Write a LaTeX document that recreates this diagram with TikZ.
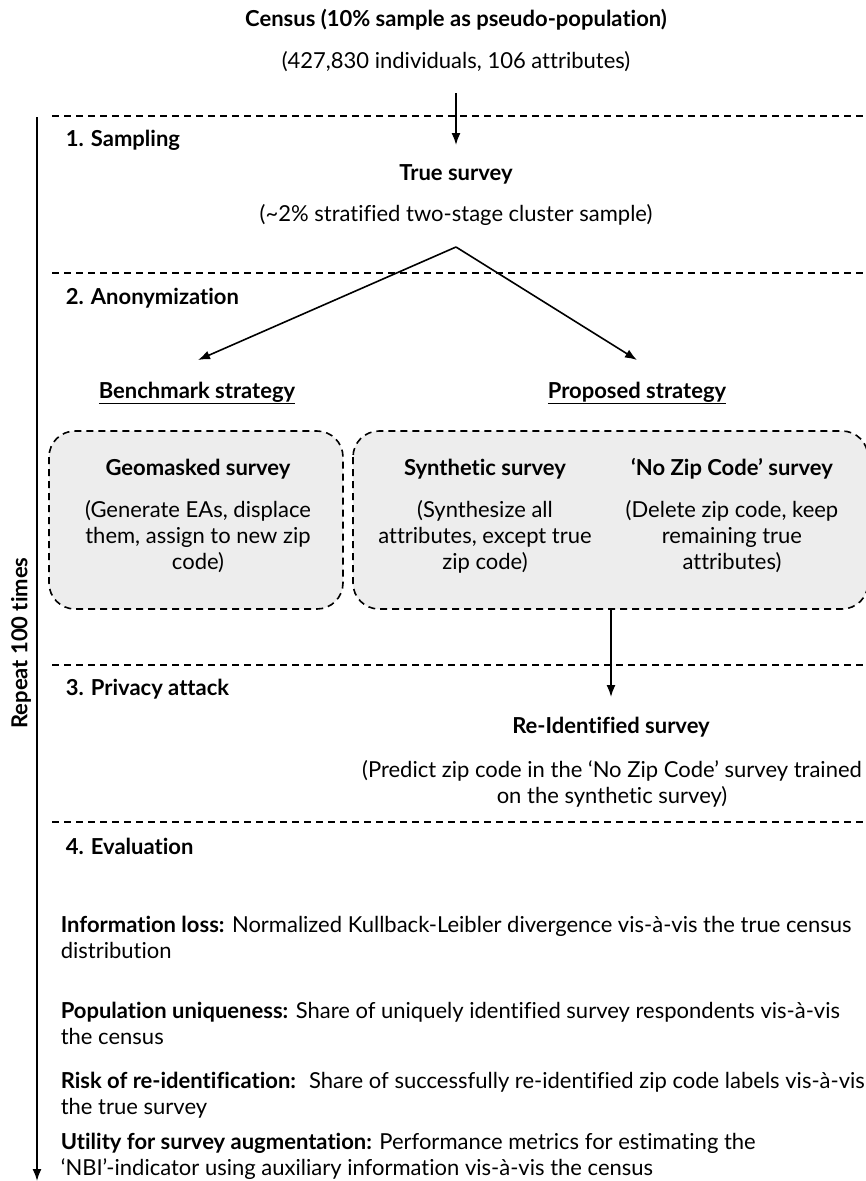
\documentclass[tikz,border=0pt]{standalone}
\usepackage{fontspec}
\setmainfont{Lato}[Ligatures=CommonOff]
\usepackage{tikz}
\usetikzlibrary{arrows.meta}

\newcommand\bodyfont{\fontsize{22}{26}\selectfont}
\tikzset{
  every node/.style={font=\bodyfont, inner sep=0pt},
  heading/.style={font=\bodyfont\bfseries},
  phase/.style={font=\bodyfont\bfseries, anchor=west},
  desc/.style={align=center},
  item/.style={anchor=north west, align=left},
  sep/.style={dash pattern=on 7pt off 5pt},
  strategy/.style={draw, dash pattern=on 7pt off 5pt, rounded corners=26pt, fill=gray!14},
  flow/.style={-{Latex[length=12pt,width=9pt]}},
}

\begin{document}
\begin{tikzpicture}[x=1pt, y=-1pt, line width=1.6pt]
        \useasboundingbox (0,0) rectangle (865,1181);

        \node[heading] (census) at (456,20) {Census (10\% sample as pseudo-population)};
        \node (censusinfo) at (456,62) {(427,830 individuals, 106 attributes)};

        % Phases
        \draw[sep] (52,116) -- (865,116);
        \draw[sep] (52,273) -- (865,273);
        \draw[sep] (52,665) -- (865,665);
        \draw[sep] (52,822) -- (865,822);
        \node[phase] (sampling) at (65,140) {1. Sampling};
        \node[phase] (anonym) at (65,298) {2. Anonymization};
        \node[phase] (attack) at (65,689) {3. Privacy attack};
        \node[phase] (evaluation) at (65,846) {4. Evaluation};

        % Repeat
        \coordinate (rtop) at (37,117);
        \coordinate (rbot) at (37,1181);
        \draw[flow] (rtop) -- (rbot);
        \node[heading, rotate=90] (repeat) at (21,643) {Repeat 100 times};

        % Sampling
        \coordinate (censusout) at (456,93);
        \node[heading] (true) at (456,174) {True survey};
        \node (trueinfo) at (456,215) {(\textasciitilde2\% stratified two-stage cluster sample)};
        \draw[flow] (censusout) -- (456,145);

        % Anonymization
        \coordinate (apex) at (456,247);
        \coordinate (benchin) at (198,360);
        \coordinate (propin) at (637,360);
        \draw[flow] (apex) -- (benchin);
        \draw[flow] (apex) -- (propin);
        \node[heading] (bench) at (197,393) {\underline{Benchmark strategy}};
        \node[heading] (prop) at (637,393) {\underline{Proposed strategy}};

        \draw[strategy] (49,431) rectangle (343,609);
        \draw[strategy] (353,431) rectangle (868,609);

        \node[heading] (geo) at (198,469) {Geomasked survey};
        \node[desc] (geoinfo) at (198,537) {(Generate EAs, displace\\them, assign to new zip\\code)};
        \node[heading] (synth) at (485,469) {Synthetic survey};
        \node[desc] (synthinfo) at (485,537) {(Synthesize all\\attributes, except true\\zip code)};
        \node[heading] (nozip) at (732,469) {‘No Zip Code’ survey};
        \node[desc] (nozipinfo) at (732,537) {(Delete zip code, keep\\remaining true\\attributes)};

        % Privacy attack
        \coordinate (propout) at (611,609);
        \node[heading] (reid) at (611,727) {Re-Identified survey};
        \node[desc] (reidinfo) at (612,784) {(Predict zip code in the ‘No Zip Code’ survey trained\\on the synthetic survey)};
        \draw[flow] (propout) -- (611,697);

        % Evaluation
        \node[item] (infoloss) at (60,915) {\textbf{Information loss:} Normalized Kullback-Leibler divergence vis-à-vis the true census\\distribution};
        \node[item] (unique) at (60,1001) {\textbf{Population uniqueness:} Share of uniquely identified survey respondents vis-à-vis\\the census};
        \node[item] (risk) at (60,1071) {\textbf{Risk of re-identification:}~ Share of successfully re-identified zip code labels vis-à-vis\\the true survey};
        \node[item] (utility) at (60,1132) {\textbf{Utility for survey augmentation:} Performance metrics for estimating the\\‘NBI’-indicator using auxiliary information vis-à-vis the census};
    \end{tikzpicture}
\end{document}
